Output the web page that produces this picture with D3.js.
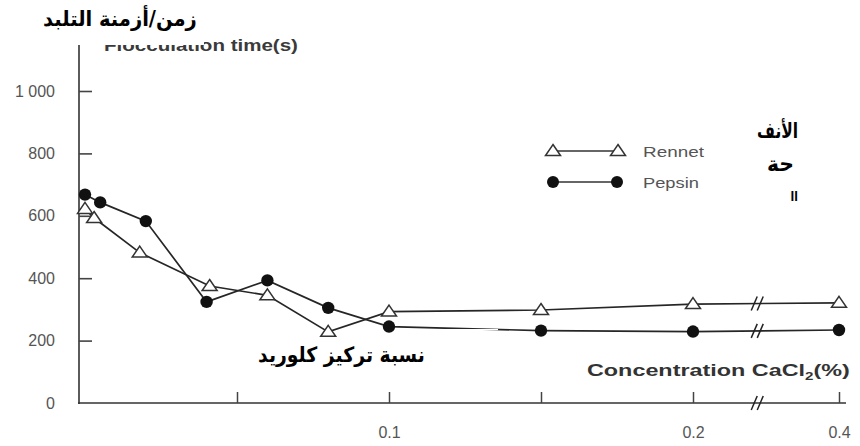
<!DOCTYPE html>
<html>
<head>
<meta charset="utf-8">
<script src="https://cdn.jsdelivr.net/npm/d3@7"></script>
<style>
  body { margin: 0; background: #fff; }
  svg { display: block; }
</style>
</head>
<body>
<div id="chart"></div>
<script>
// values
const concRennet = [0, 0.003, 0.018, 0.041, 0.06, 0.08, 0.1, 0.15, 0.2, 0.4]
const rennetTime = [622, 593, 482, 375, 345, 228, 293, 298, 317, 321]
const concPepsin = [0, 0.005, 0.02, 0.04, 0.06, 0.08, 0.1, 0.15, 0.2, 0.4]
const pepsinTime = [668, 643, 583, 324, 393, 305, 245, 232, 229, 234]

const yTicks = [0, 200, 400, 600, 800, 1000]
const yTickLabels = ["0", "200", "400", "600", "800", "1 000"]
const xTicks = [0.05, 0.1, 0.15, 0.2, 0.4]
const xTickLabels = ["", "0.1", "", "0.2", "0.4"]
const seriesNames = ["Rennet", "Pepsin"]
const breakAt = 0.288

const width = 860, height = 446
const latin = "'Liberation Sans', Arial, sans-serif"
const arabic = "'DejaVu Sans', sans-serif"

const svg = d3.select("#chart").append("svg")
    .attr("width", width)
    .attr("height", height)

// broken x axis: 0..0.2 then a compressed stretch up to 0.4
const x = d3.scaleLinear().domain([0, 0.2, 0.4]).range([85, 693, 839])
const y = d3.scaleLinear().domain([0, 1000]).range([403, 91])

// stretch a text horizontally so it covers x0..x1 (the scan is wider than the fonts)
function fit(t, x0, x1) {
    const b = t.node().getBBox()
    const s = (x1 - x0) / b.width
    t.attr("transform", "translate(" + x0 + ",0) scale(" + s + ",1) translate(" + (-b.x) + ",0)")
}

// y label (half hidden in the scan by the arabic caption box)
const ylab = svg.append("text")
    .attr("x", 105).attr("y", 51)
    .style("font-family", latin).style("font-weight", "bold")
    .style("font-size", "16px").style("fill", "#3a3a3a")
    .text("Flocculation time(s)")
fit(ylab, 104, 298)
svg.append("rect").attr("x", 38).attr("y", 0).attr("width", 166).attr("height", 45).attr("fill", "#fff")

// axes
svg.append("line")
    .attr("x1", 79).attr("x2", 79).attr("y1", 45).attr("y2", 404)
    .attr("stroke", "#333").attr("stroke-width", 1.6)
svg.append("line")
    .attr("x1", 78).attr("x2", 846).attr("y1", y(0)).attr("y2", y(0))
    .attr("stroke", "#333").attr("stroke-width", 1.6)

const yAxis = svg.append("g")
    .attr("transform", "translate(79,0)")
    .call(d3.axisLeft(y).tickValues(yTicks).tickSize(-13).tickPadding(24)
        .tickFormat((d, i) => yTickLabels[i]))
yAxis.select(".domain").remove()
yAxis.selectAll(".tick line").attr("stroke", "#444").attr("stroke-width", 1.6)
yAxis.selectAll(".tick").filter(d => d === 0).select("line").remove()
yAxis.selectAll("text")
    .style("font-family", latin).style("font-size", "16px").attr("fill", "#555")

const xAxis = svg.append("g")
    .attr("transform", "translate(0," + y(0) + ")")
    .call(d3.axisBottom(x).tickValues(xTicks).tickSize(-11).tickPadding(24)
        .tickFormat((d, i) => xTickLabels[i]))
xAxis.select(".domain").remove()
xAxis.selectAll(".tick line").attr("stroke", "#444").attr("stroke-width", 1.5)
xAxis.selectAll("text")
    .style("font-family", latin).style("font-size", "16px").attr("fill", "#555")

// the "//" break marks
function breakMark(cx, cy) {
    [-3, 3].forEach(dx => {
        svg.append("line")
            .attr("x1", cx + dx - 3).attr("y1", cy + 7)
            .attr("x2", cx + dx + 3).attr("y2", cy - 7)
            .attr("stroke", "#222").attr("stroke-width", 1.5)
    })
}

const line = d3.line()
function drawSeries(conc, vals) {
    const pts = conc.map((c, i) => [x(c), y(vals[i])])
    svg.append("path")
        .attr("d", line(pts))
        .attr("fill", "none").attr("stroke", "#262626").attr("stroke-width", 1.7)
    // break on the last segment
    const n = conc.length
    const t = (breakAt - conc[n - 2]) / (conc[n - 1] - conc[n - 2])
    const v = vals[n - 2] + t * (vals[n - 1] - vals[n - 2])
    breakMark(x(breakAt), y(v))
    return pts
}

const tri = "M0,-6.5 L7.5,4.5 L-7.5,4.5 Z"

const rennetPts = drawSeries(concRennet, rennetTime)
const pepsinPts = drawSeries(concPepsin, pepsinTime)
breakMark(x(breakAt), y(0))

// small white scratch left by the caption box in the scan
svg.append("rect").attr("x", 396).attr("y", 329).attr("width", 102).attr("height", 1.2).attr("fill", "#fff")

svg.selectAll(".rennet").data(rennetPts).enter().append("path")
    .attr("class", "rennet")
    .attr("d", tri)
    .attr("transform", d => "translate(" + d[0] + "," + d[1] + ")")
    .attr("fill", "#fff").attr("stroke", "#333").attr("stroke-width", 1.5)

svg.selectAll(".pepsin").data(pepsinPts).enter().append("circle")
    .attr("class", "pepsin")
    .attr("cx", d => d[0]).attr("cy", d => d[1]).attr("r", 6.2)
    .attr("fill", "#111")

// legend
const leg = svg.append("g")
leg.append("line").attr("x1", 553).attr("x2", 618).attr("y1", 151).attr("y2", 151)
    .attr("stroke", "#333").attr("stroke-width", 1.6)
;[553, 618].forEach(cx => leg.append("path").attr("d", tri)
    .attr("transform", "translate(" + cx + ",151)")
    .attr("fill", "#fff").attr("stroke", "#333").attr("stroke-width", 1.5))
leg.append("line").attr("x1", 553).attr("x2", 617).attr("y1", 182).attr("y2", 182)
    .attr("stroke", "#333").attr("stroke-width", 1.6)
;[553, 617].forEach(cx => leg.append("circle").attr("cx", cx).attr("cy", 182).attr("r", 6).attr("fill", "#111"))
seriesNames.forEach((name, i) => {
    const t = leg.append("text")
        .attr("x", 643).attr("y", 157 + i * 31)
        .style("font-family", latin).style("font-size", "15px").style("fill", "#555")
        .text(name)
    fit(t, 643, i === 0 ? 705 : 699)
})

// x axis title with subscript
const xt = svg.append("text")
    .attr("x", 587).attr("y", 376)
    .style("font-family", latin).style("font-weight", "bold")
    .style("font-size", "17px").style("fill", "#333")
xt.append("tspan").text("Concentration CaCl")
xt.append("tspan").attr("dy", 4).style("font-size", "11px").text("2")
xt.append("tspan").attr("dy", -4).text("(%)")
fit(xt, 587, 850)

// arabic captions pasted on the scan
function arText(parent, str, x0, x1, base, size) {
    const t = parent.append("text")
        .attr("x", 0).attr("y", base)
        .style("font-family", arabic).style("font-weight", "bold")
        .style("font-size", size + "px").style("fill", "#000")
        .text(str)
    fit(t, x0, x1)
    return t
}
arText(svg, "زمن/أزمنة التلبد", 43, 197, 26, 21)
arText(svg, "نسبة تركيز كلوريد", 258, 425, 362, 21)
arText(svg, "الأنف", 757, 798, 138, 21)
arText(svg, "حة", 767, 794, 171, 21)

// third line of the caption is cut off in the scan
svg.append("clipPath").attr("id", "cut")
    .append("rect").attr("x", 740).attr("y", 180).attr("width", 80).attr("height", 21)
const cutG = svg.append("g").attr("clip-path", "url(#cut)")
arText(cutG, ".ال", 781, 798, 207, 21)
</script>
</body>
</html>
